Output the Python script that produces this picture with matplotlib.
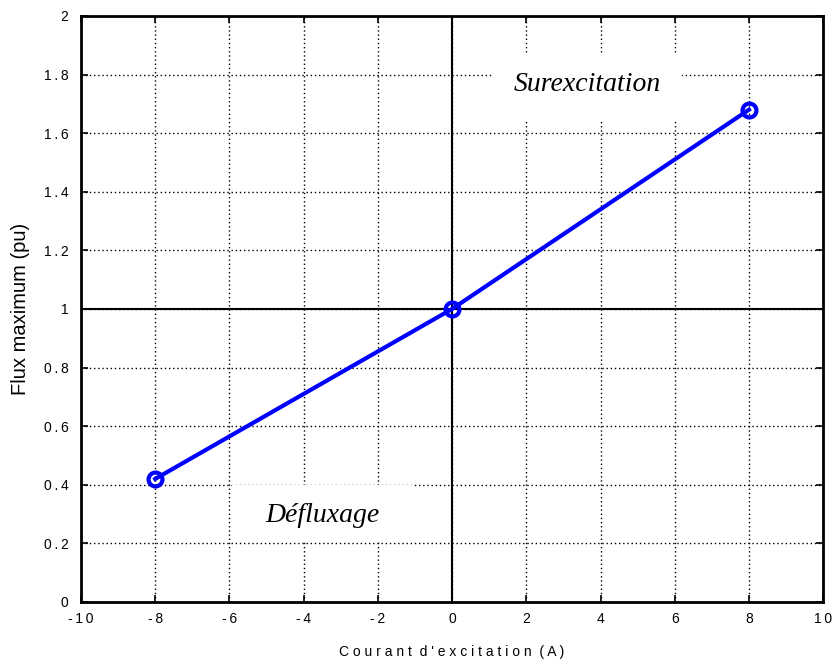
import matplotlib
matplotlib.use('Agg')
import matplotlib.pyplot as plt
from matplotlib.patches import Rectangle

# data
courant = [-8, 0, 8]
flux = [0.42, 1.0, 1.68]
xticks = list(range(-10, 11, 2))
yticks = [0, 0.2, 0.4, 0.6, 0.8, 1, 1.2, 1.4, 1.6, 1.8, 2]
ytick_labels = ['0', '0.2', '0.4', '0.6', '0.8', '1', '1.2', '1.4', '1.6', '1.8', '2']

plt.rcParams['font.family'] = ['Liberation Sans', 'DejaVu Sans']


def spaced(s):
    # the original labels are drawn with loose letter spacing
    return '\u2009'.join(s)


fig = plt.figure(figsize=(8.33, 6.6), dpi=100)
ax = fig.add_axes([0.0972, 0.0879, 0.891, 0.888])

ax.set_xlim(-10, 10)
ax.set_ylim(0, 2)
ax.set_xticks(xticks)
ax.set_xticklabels([spaced(str(t)) for t in xticks])
ax.set_yticks(yticks)
ax.set_yticklabels([spaced(t) for t in ytick_labels])
ax.tick_params(direction='in', top=True, right=True, length=5, width=1.2,
               labelsize=10)
ax.tick_params(axis='y', pad=9)
ax.tick_params(axis='x', pad=7)
ax.set_axisbelow(True)
ax.grid(True, color='black', linestyle=(0, (1, 2)), linewidth=1.0, zorder=0)
for s in ax.spines.values():
    s.set_linewidth(2)
    s.set_zorder(6)

ax.axvline(0, color='black', linewidth=1.5, zorder=1)
ax.axhline(1, color='black', linewidth=1.5, zorder=1)

# white boxes behind the two labels
ax.add_patch(Rectangle((1.08, 1.642), 5.12, 0.232, facecolor='white',
                       edgecolor='none', zorder=2))
ax.add_patch(Rectangle((-5.93, 0.205), 4.88, 0.195, facecolor='white',
                       edgecolor='none', zorder=2))

ax.plot(courant, flux, color='#0000ff', linewidth=3, marker='o', markersize=10,
        markerfacecolor='none', markeredgewidth=3, zorder=5)

ax.text(3.64, 1.765, 'Surexcitation', fontsize=20, style='italic',
        family='Liberation Serif', ha='center', va='center', zorder=4)
ax.text(-3.48, 0.295, 'Défluxage', fontsize=20, style='italic',
        family='Liberation Serif', ha='center', va='center', zorder=4)

ax.set_xlabel("C o u r a n t  d ' e x c i t a t i o n  ( A )", fontsize=10, labelpad=14)
ax.set_ylabel('Flux maximum (pu)', fontsize=14.5, labelpad=10)

fig.savefig('out.png', dpi=100)
